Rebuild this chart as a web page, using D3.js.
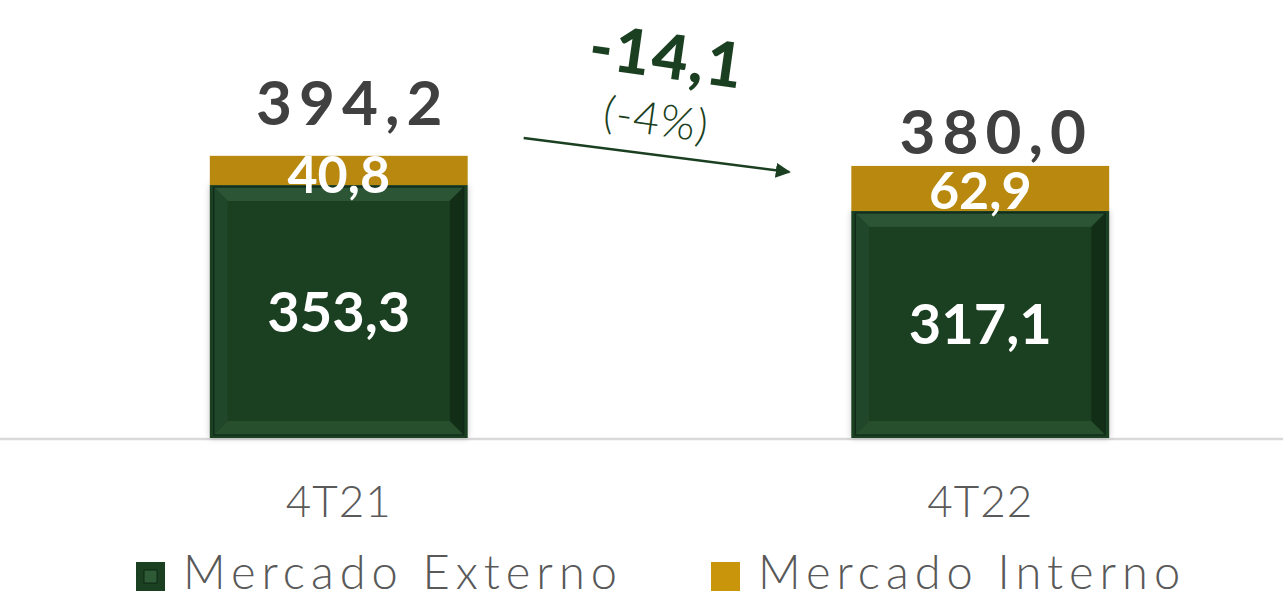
<!DOCTYPE html>
<html>
<head>
<meta charset="utf-8">
<script src="https://d3js.org/d3.v7.min.js"></script>
<style>
  body { margin: 0; background: #fff; }
  svg { display: block; font-family: "Century Gothic", Lato, "DejaVu Sans", sans-serif; }
</style>
</head>
<body>
<svg width="1283" height="598"></svg>
<script>
// data
const periods = ["4T21", "4T22"];
const externo = [353.3, 317.1];
const interno = [40.8, 62.9];
const totals = [394.2, 380.0];
const seriesNames = ["Mercado Externo", "Mercado Interno"];
const deltaLabel = "-14,1";
const deltaPct = "(-4%)";

const fmt = v => d3.format(".1f")(v).replace(".", ",");

const green = "#1b3f21", gold = "#b8890e", legendGold = "#c9950a";
const svg = d3.select("svg");

const x = d3.scaleBand().domain(periods).range([18, 1301]).paddingInner(0.598).paddingOuter(0.299);
const y = d3.scaleLinear().domain([0, 400]).range([438, 151.6]);
const bw = x.bandwidth();

// soft shadow
const defs = svg.append("defs");
const f = defs.append("filter").attr("id", "sh").attr("x", "-10%").attr("y", "-10%").attr("width", "120%").attr("height", "120%");
f.append("feDropShadow").attr("dx", 0).attr("dy", 0).attr("stdDeviation", 3).attr("flood-color", "#000").attr("flood-opacity", 0.22);

// baseline
svg.append("line").attr("x1", 0).attr("x2", 1283).attr("y1", y(0) + 1).attr("y2", y(0) + 1)
  .attr("stroke", "#d9d9d9").attr("stroke-width", 2.5);

const bars = svg.append("g").selectAll("g").data(periods).join("g");

// green (externo) bars with bevel
bars.each(function(p, i) {
  const g = d3.select(this);
  const x0 = x(p), x1 = x(p) + bw, y0 = y(externo[i]), y1 = y(0);
  g.append("rect").attr("x", x0).attr("y", y0).attr("width", bw).attr("height", y1 - y0)
    .attr("fill", green).attr("filter", "url(#sh)");
  const b = 14, o = 4;
  const ox0 = x0 + o, ox1 = x1 - o, oy0 = y0 + 2, oy1 = y1 - 3;
  const ix0 = ox0 + b, ix1 = ox1 - b, iy0 = oy0 + b, iy1 = oy1 - b;
  const faces = [
    { pts: [[ox0, oy0], [ox1, oy0], [ix1, iy0], [ix0, iy0]], c: "#2b5534" },
    { pts: [[ox0, oy0], [ix0, iy0], [ix0, iy1], [ox0, oy1]], c: "#20472a" },
    { pts: [[ox1, oy0], [ox1, oy1], [ix1, iy1], [ix1, iy0]], c: "#132e17" },
    { pts: [[ox0, oy1], [ix0, iy1], [ix1, iy1], [ox1, oy1]], c: "#274f2e" }
  ];
  g.selectAll("polygon").data(faces).join("polygon")
    .attr("points", d => d.pts.map(q => q.join(",")).join(" "))
    .attr("fill", d => d.c);
  g.append("rect").attr("x", ix0).attr("y", iy0).attr("width", ix1 - ix0).attr("height", iy1 - iy0).attr("fill", green);
  g.append("rect").attr("x", ox0).attr("y", oy0).attr("width", ox1 - ox0).attr("height", oy1 - oy0)
    .attr("fill", "none").attr("stroke", "#10281a").attr("stroke-width", 1.2);
});

// gold (interno) segments
bars.append("rect")
  .attr("x", p => x(p))
  .attr("y", (p, i) => y(externo[i] + interno[i]))
  .attr("width", bw)
  .attr("height", (p, i) => y(externo[i]) - y(externo[i] + interno[i]))
  .attr("fill", gold);

// value labels inside
bars.append("text")
  .attr("x", p => x(p) + bw / 2)
  .attr("y", (p, i) => (y(externo[i]) + y(0)) / 2 + 20)
  .attr("text-anchor", "middle").attr("fill", "#fff")
  .attr("font-size", 56).attr("font-weight", 700)
  .text((p, i) => fmt(externo[i]));

const inOff = [37, 43];
bars.append("text")
  .attr("x", p => x(p) + bw / 2)
  .attr("y", (p, i) => y(externo[i] + interno[i]) + inOff[i])
  .attr("text-anchor", "middle").attr("fill", "#fff")
  .attr("font-size", 52).attr("font-weight", 700)
  .text((p, i) => fmt(interno[i]));

// totals
const totOff = [-31, -12], totDx = [14, 16];
bars.append("text")
  .attr("x", (p, i) => x(p) + bw / 2 + totDx[i])
  .attr("y", (p, i) => y(totals[i]) + totOff[i])
  .attr("text-anchor", "middle").attr("fill", "#404040")
  .attr("font-size", 62).attr("font-weight", 700).attr("letter-spacing", 7)
  .text((p, i) => fmt(totals[i]));

// category axis labels
svg.append("g").selectAll("text").data(periods).join("text")
  .attr("x", p => x(p) + bw / 2)
  .attr("y", 517)
  .attr("text-anchor", "middle").attr("fill", "#595959")
  .attr("font-size", 44).attr("font-weight", 300).attr("letter-spacing", 1)
  .text(p => p);

// delta arrow
const ax0 = x(periods[0]) + bw + 56, ay0 = 138, ax1 = x(periods[1]) - 62, ay1 = 172;
defs.append("marker").attr("id", "ah").attr("viewBox", "0 0 10 10").attr("refX", 9).attr("refY", 5)
  .attr("markerWidth", 6).attr("markerHeight", 6).attr("orient", "auto")
  .append("path").attr("d", "M0,0 L10,5 L0,10 z").attr("fill", green);
svg.append("line").attr("x1", ax0).attr("y1", ay0).attr("x2", ax1).attr("y2", ay1)
  .attr("stroke", green).attr("stroke-width", 2.5).attr("marker-end", "url(#ah)");

svg.append("text").attr("transform", "translate(664,78) rotate(8)")
  .attr("text-anchor", "middle").attr("fill", green)
  .attr("font-size", 62).attr("font-weight", 900).attr("letter-spacing", 2)
  .text(deltaLabel);
svg.append("text").attr("transform", "translate(654,135) rotate(8)")
  .attr("text-anchor", "middle").attr("fill", green)
  .attr("font-size", 45).attr("font-weight", 300).attr("letter-spacing", 1)
  .text(deltaPct);

// legend
const leg = svg.append("g").selectAll("g").data(seriesNames).join("g")
  .attr("transform", (d, i) => `translate(${[136, 711][i]},562)`);
leg.append("rect").attr("width", 29).attr("height", 29)
  .attr("fill", (d, i) => i === 0 ? green : legendGold);
leg.filter((d, i) => i === 0).append("rect").attr("x", 8).attr("y", 8).attr("width", 13).attr("height", 13)
  .attr("fill", "#2e5a36").attr("stroke", "#0f2612").attr("stroke-width", 1);
leg.append("text").attr("x", 47).attr("y", 27)
  .attr("fill", "#595959").attr("font-size", 47).attr("font-weight", 300).attr("letter-spacing", 6)
  .text(d => d);
</script>
</body>
</html>
